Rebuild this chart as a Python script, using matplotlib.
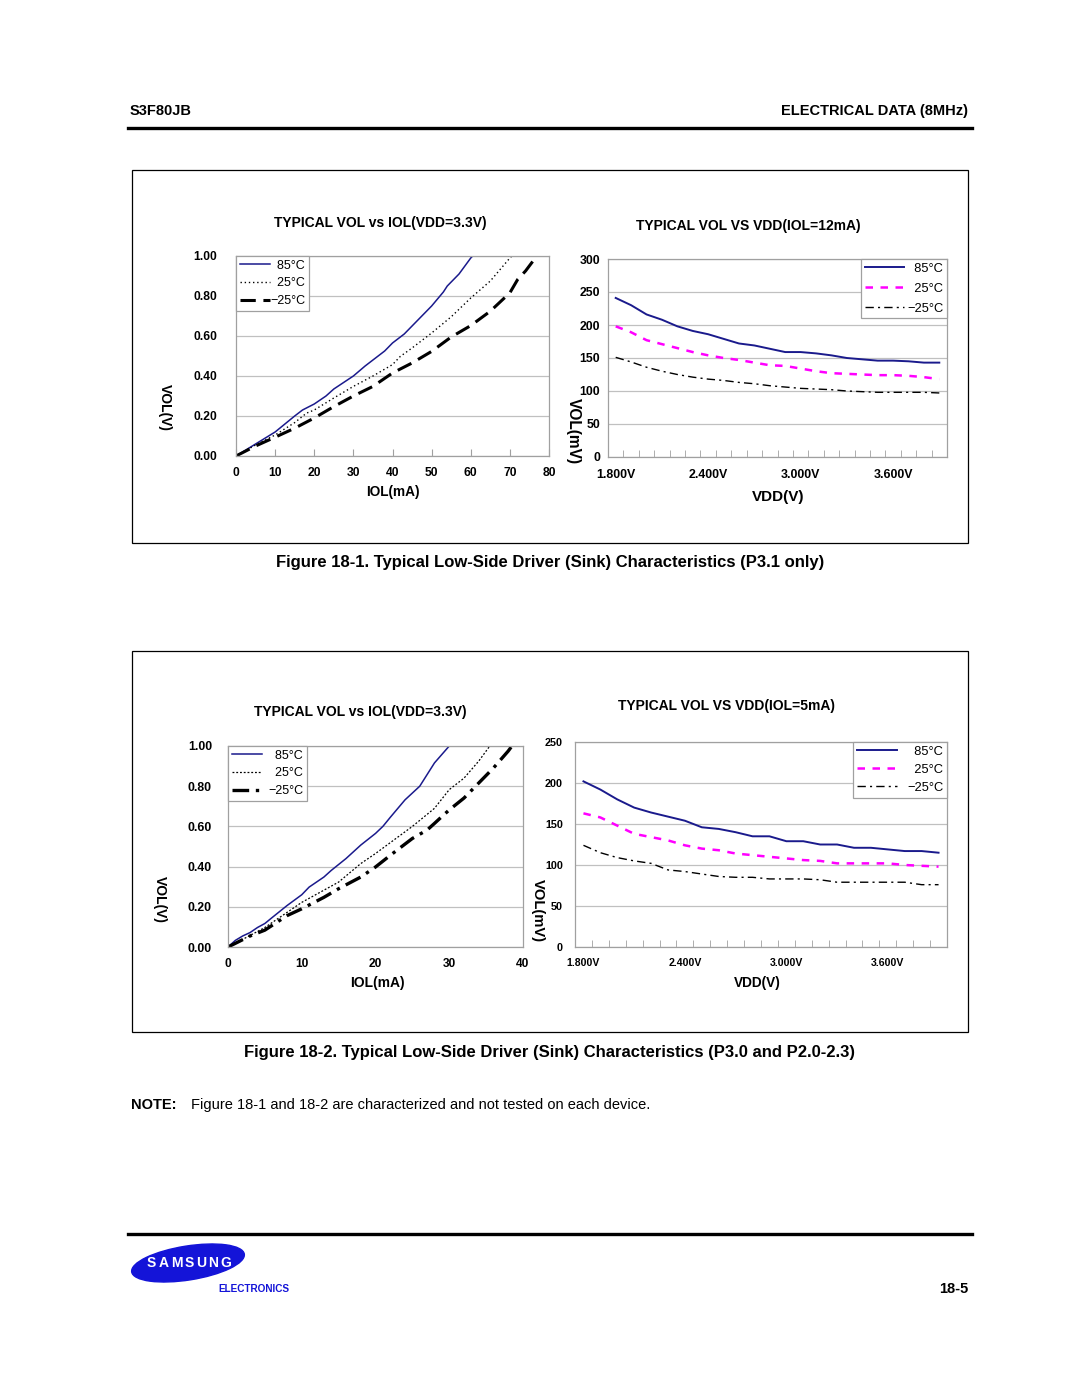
import numpy as np
import matplotlib
matplotlib.use("Agg")
import matplotlib.pyplot as plt
from matplotlib.patches import Rectangle, Ellipse
from matplotlib.lines import Line2D
from matplotlib.textpath import TextPath
from matplotlib.font_manager import FontProperties

plt.rcParams['font.family'] = ['Liberation Sans', 'DejaVu Sans']

# ---------------- data ----------------
# Figure 18-1 left: VOL vs IOL (VDD=3.3V)
iol1_85 = [0, 5, 10, 15, 17, 20, 23, 25, 30, 33, 38, 40, 43, 45, 50, 53, 54, 57, 60, 61]
vol1_85 = [0, 0.06, 0.12, 0.20, 0.23, 0.26, 0.30, 0.335, 0.40, 0.45, 0.525, 0.565, 0.61, 0.65, 0.75, 0.82, 0.85, 0.91, 0.99, 1.01]
iol1_25 = [0, 5, 10, 15, 18, 20, 25, 30, 35, 40, 42, 45, 50, 55, 60, 65, 70, 71]
vol1_25 = [0, 0.055, 0.105, 0.167, 0.214, 0.23, 0.29, 0.348, 0.40, 0.457, 0.498, 0.54, 0.615, 0.696, 0.79, 0.875, 0.99, 1.01]
iol1_m25 = [0, 5, 10, 15, 20, 25, 30, 35, 40, 45, 50, 55, 60, 65, 70, 72, 74, 76.5, 77]
vol1_m25 = [0, 0.05, 0.094, 0.139, 0.19, 0.247, 0.30, 0.348, 0.415, 0.465, 0.523, 0.595, 0.652, 0.724, 0.816, 0.883, 0.925, 0.99, 1.0]

# Figure 18-1 right: VOL vs VDD (IOL=12mA)
vdd = [1.8, 1.9, 2.0, 2.1, 2.2, 2.3, 2.4, 2.5, 2.6, 2.7, 2.8, 2.9, 3.0, 3.1, 3.2, 3.3, 3.4, 3.5, 3.6, 3.7, 3.8, 3.9]
vol12_85 = [241, 230, 216, 208, 198, 191, 186, 179, 172, 169, 164, 159, 159, 157, 154, 150, 148, 146, 146, 145, 143, 143]
vol12_25 = [198, 189, 177, 171, 165, 159, 154, 150, 147, 143, 139, 138, 134, 130, 127, 126, 125, 124, 124, 123, 121, 118]
vol12_m25 = [151, 144, 136, 130, 125, 121, 118, 116, 113, 111, 108, 106, 104, 103, 102, 100, 99, 98, 98, 98, 98, 97]

# Figure 18-2 left: VOL vs IOL (VDD=3.3V)
iol2_85 = [0, 1, 2, 3, 4, 5, 6, 8, 10, 11, 13, 14, 16, 18, 20, 21, 22, 24, 26, 27, 28, 30]
vol2_85 = [0, 0.033, 0.055, 0.072, 0.097, 0.117, 0.147, 0.206, 0.26, 0.298, 0.348, 0.381, 0.44, 0.507, 0.565, 0.60, 0.645, 0.732, 0.80, 0.858, 0.916, 1.0]
iol2_25 = [0, 2, 5, 10, 15, 18, 20, 25, 28, 30, 32, 34, 35.5]
vol2_25 = [0, 0.038, 0.097, 0.222, 0.323, 0.415, 0.465, 0.60, 0.69, 0.783, 0.84, 0.925, 1.0]
iol2_m25 = [0, 3, 5, 8, 10, 13, 15, 18, 20, 22, 25, 27, 28, 29, 30, 32, 34, 36, 37, 38, 38.5]
vol2_m25 = [0, 0.055, 0.084, 0.156, 0.19, 0.247, 0.29, 0.348, 0.398, 0.456, 0.54, 0.582, 0.615, 0.649, 0.682, 0.741, 0.816, 0.891, 0.933, 0.975, 1.0]

# Figure 18-2 right: VOL vs VDD (IOL=5mA)
vol5_85 = [202, 192, 180, 170, 164, 159, 154, 146, 144, 140, 135, 135, 129, 129, 125, 125, 121, 121, 119, 117, 117, 115]
vol5_25 = [163, 158, 148, 138, 134, 130, 124, 120, 118, 114, 112, 110, 108, 106, 105, 102, 102, 102, 102, 100, 99, 98]
vol5_m25 = [124, 115, 109, 105, 102, 94, 92, 89, 86, 85, 85, 83, 83, 83, 82, 79, 79, 79, 79, 79, 76, 76]

labels_temp = ["  85°C", "  25°C", "\u221225°C"]
iol_ticks_1 = [0, 10, 20, 30, 40, 50, 60, 70, 80]
iol_ticks_2 = [0, 10, 20, 30, 40]
vol_ticks = [0.0, 0.2, 0.4, 0.6, 0.8, 1.0]
vdd_ticks = [1.8, 2.4, 3.0, 3.6]
mv_ticks_12 = [0, 50, 100, 150, 200, 250, 300]
mv_ticks_5 = [0, 50, 100, 150, 200, 250]

# ---------------- figure ----------------
W, H = 1080, 1397
fig = plt.figure(figsize=(W / 100, H / 100), dpi=100)

page = fig.add_axes([0, 0, 1, 1], zorder=-5)
page.set_xlim(0, W)
page.set_ylim(H, 0)
page.axis('off')


def ax_px(l, t, r, b):
    return fig.add_axes([l / W, 1 - b / H, (r - l) / W, (b - t) / H])


NAVY = '#1a1a8c'
MAG = '#ff00ff'
GRID = '#c0c0c0'
SPINE = '#a0a0a0'
PX = 0.72  # points per pixel at 100 dpi


def style_axes(ax, ylab_size, xlab_size, ypad_px, xpad_px):
    for s in ax.spines.values():
        s.set_color(SPINE)
        s.set_linewidth(0.9)
    ax.grid(axis='y', color=GRID, linewidth=0.9)
    ax.set_axisbelow(True)
    ax.tick_params(axis='y', length=0, pad=ypad_px * PX, labelsize=ylab_size)
    ax.tick_params(axis='x', pad=xpad_px * PX, labelsize=xlab_size)
    for t in ax.get_xticklabels() + ax.get_yticklabels():
        t.set_fontweight('bold')


def iol_axes(ax, xticks, xmax):
    ax.set_xlim(0, xmax)
    ax.set_ylim(0, 1.0)
    ax.set_xticks(xticks)
    ax.set_xticklabels([str(v) for v in xticks])
    ax.set_yticks(vol_ticks)
    ax.set_yticklabels([f"{v:.2f}" for v in vol_ticks])
    ax.tick_params(axis='x', direction='in', length=5, color=SPINE)


def vdd_axes(ax, yticks, ymax):
    ax.set_xlim(vdd[0] - 0.05, vdd[-1] + 0.05)
    ax.set_ylim(0, ymax)
    ax.set_yticks(yticks)
    ax.set_yticklabels([str(v) for v in yticks])
    ax.set_xticks(vdd_ticks)
    ax.set_xticklabels([f"{v:.3f}V" for v in vdd_ticks])
    ax.set_xticks([v + 0.05 for v in vdd[:-1]], minor=True)
    ax.tick_params(axis='x', which='major', length=0)
    ax.tick_params(axis='x', which='minor', direction='in', length=5, color=SPINE)


def legend(ax, loc, anchor, fs, hl, htp, ls):
    lg = ax.legend(loc=loc, bbox_to_anchor=anchor, borderaxespad=0, fancybox=False,
                   edgecolor=SPINE, framealpha=1, fontsize=fs, handlelength=hl,
                   handletextpad=htp, labelspacing=ls, borderpad=0.3)
    lg.get_frame().set_linewidth(0.9)
    return lg


# ---- Figure 18-1 left ----
a1 = ax_px(236, 256, 549, 456)
a1.plot(iol1_85, vol1_85, color=NAVY, lw=1.1, label=labels_temp[0])
a1.plot(iol1_25, vol1_25, color='black', lw=1.0, ls=(0, (1, 2)), label=labels_temp[1])
a1.plot(iol1_m25, vol1_m25, color='black', lw=2.2, ls=(0, (5, 2.5)), label=labels_temp[2])
iol_axes(a1, iol_ticks_1, 80)
style_axes(a1, 8.7, 8.7, 19, 11)
legend(a1, 'upper left', (0, 1), 9, 2.4, 0.05, 0.45)

# ---- Figure 18-1 right ----
a2 = ax_px(608, 259, 947, 457)
a2.plot(vdd, vol12_85, color=NAVY, lw=1.4, label=labels_temp[0])
a2.plot(vdd, vol12_25, color=MAG, lw=1.8, ls=(0, (3, 3)), label=labels_temp[1])
a2.plot(vdd, vol12_m25, color='black', lw=1.0, ls=(0, (6, 3, 1.5, 3)), label=labels_temp[2])
vdd_axes(a2, mv_ticks_12, 300)
style_axes(a2, 8.8, 8.9, 8, 12)
legend(a2, 'upper right', (1, 1), 9.3, 3.0, 0.25, 0.6)

# ---- Figure 18-2 left ----
a3 = ax_px(228, 746, 523, 947)
a3.plot(iol2_85, vol2_85, color=NAVY, lw=1.1, label=labels_temp[0])
a3.plot(iol2_25, vol2_25, color='black', lw=0.9, ls=(0, (1.5, 1.5)), label=labels_temp[1])
a3.plot(iol2_m25, vol2_m25, color='black', lw=2.4, ls=(0, (5, 2, 1, 2)), label=labels_temp[2])
iol_axes(a3, iol_ticks_2, 40)
a3.tick_params(axis='x', length=0)
style_axes(a3, 8.8, 8.6, 16, 11)
legend(a3, 'upper left', (0, 1), 9, 2.4, 0.5, 0.45)

# ---- Figure 18-2 right ----
a4 = ax_px(575, 742, 947, 947)
a4.plot(vdd, vol5_85, color=NAVY, lw=1.4, label=labels_temp[0])
a4.plot(vdd, vol5_25, color=MAG, lw=1.8, ls=(0, (3, 3)), label=labels_temp[1])
a4.plot(vdd, vol5_m25, color='black', lw=1.0, ls=(0, (6, 3, 1.5, 3)), label=labels_temp[2])
vdd_axes(a4, mv_ticks_5, 250)
style_axes(a4, 7.8, 7.6, 12, 11)
legend(a4, 'upper right', (1, 1), 9.3, 3.1, 0.75, 0.45)

# ---------------- page decorations ----------------
def T(x, y, s, size, weight='bold', ha='center', va='center', rot=0, color='black'):
    page.text(x, y, s, fontsize=size, fontweight=weight, ha=ha, va=va,
              rotation=rot, color=color)

T(130, 111, "S3F80JB", 10.5, ha='left')
T(968, 111, "ELECTRICAL DATA (8MHz)", 10.5, ha='right')
page.add_line(Line2D([128, 972], [128, 128], color='black', lw=2.4))

page.add_patch(Rectangle((132, 170), 836, 373, fill=False, ec='black', lw=0.9))
page.add_patch(Rectangle((132, 651), 836, 381, fill=False, ec='black', lw=0.9))

T(380, 223, "TYPICAL VOL vs IOL(VDD=3.3V)", 10)
T(748, 226, "TYPICAL VOL VS VDD(IOL=12mA)", 10)
T(165, 408, "VOL(V)", 10, rot=-90)
T(573, 431, "VOL(mV)", 11.2, rot=-90)
T(393, 492, "IOL(mA)", 9.8)
T(778, 497, "VDD(V)", 11)
T(550, 563, "Figure 18-1. Typical Low-Side Driver (Sink) Characteristics (P3.1 only)", 12)

T(360, 712, "TYPICAL VOL vs IOL(VDD=3.3V)", 10)
T(726, 706, "TYPICAL VOL VS VDD(IOL=5mA)", 10)
T(160, 900, "VOL(V)", 10, rot=-90)
T(538, 911, "VOL(mV)", 10.6, rot=-90)
T(377, 983, "IOL(mA)", 10)
T(757, 983, "VDD(V)", 9.8)
T(550, 1052, "Figure 18-2. Typical Low-Side Driver (Sink) Characteristics (P3.0 and P2.0-2.3)", 12)

T(131, 1105, "NOTE:", 10.5, ha='left')
T(191, 1105, "Figure 18-1 and 18-2 are characterized and not tested on each device.", 10.5,
  weight='normal', ha='left')

page.add_line(Line2D([128, 972], [1234, 1234], color='black', lw=2.4))

# Samsung logo
BLUE = '#1414d8'
page.add_patch(Ellipse((188, 1263), 114, 34, angle=-9, color=BLUE))
logo_word = "SAMSUNG"
logo_fs = 10
fp = FontProperties(family='Liberation Sans', weight='bold', size=logo_fs)
widths = [TextPath((0, 0), ch, prop=fp).get_extents().width * 100 / 72 for ch in logo_word]
span_l, span_r = 147, 230
gap = (span_r - span_l - sum(widths)) / (len(logo_word) - 1)
x = span_l
for ch, w in zip(logo_word, widths):
    T(x + w / 2, 1263, ch, logo_fs, color='white')
    x += w + gap
T(254, 1289, "ELECTRONICS", 7.2, color=BLUE)
T(968, 1289, "18-5", 10.5, ha='right')

fig.savefig("out.png", dpi=100)
